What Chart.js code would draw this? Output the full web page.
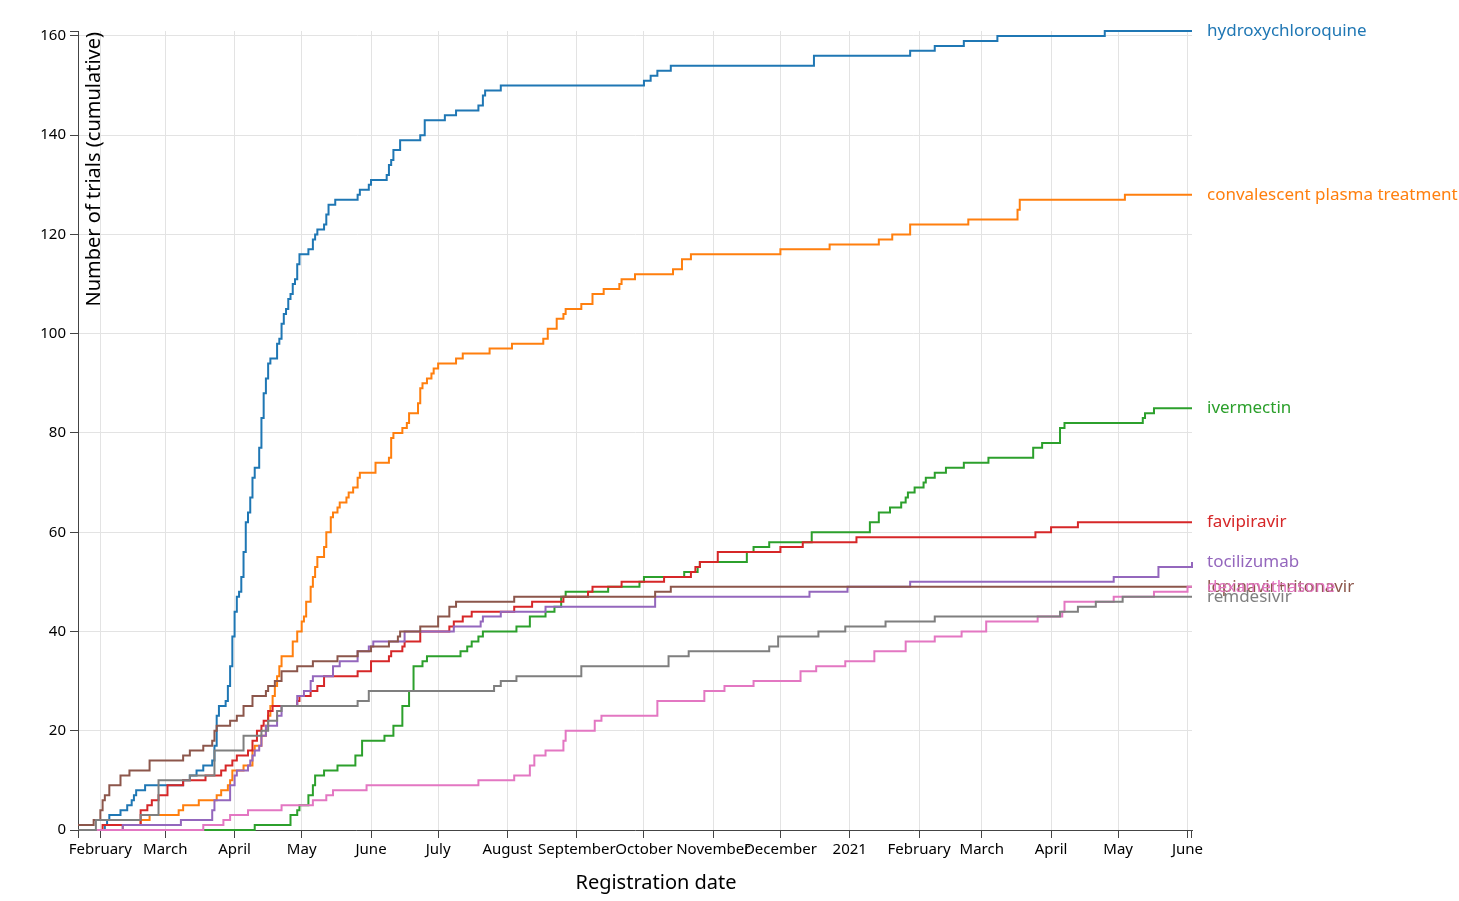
<!DOCTYPE html>
<html>
<head>
<meta charset="utf-8">
<script src="https://cdn.jsdelivr.net/npm/chart.js@4.4.1/dist/chart.umd.min.js"></script>
<style>
  html, body { margin: 0; padding: 0; background: #fff; }
  #wrap { width: 1459px; height: 901px; }
</style>
</head>
<body>
<div id="wrap"><canvas id="chart" width="1459" height="901"></canvas></div>
<script>
// axis range and tick labels
var firstDay = "2020-01-22";
var lastDay = "2021-06-03";
var tickDates = ["2020-02-01","2020-03-01","2020-04-01","2020-05-01","2020-06-01","2020-07-01","2020-08-01","2020-09-01",
  "2020-10-01","2020-11-01","2020-12-01","2021-01-01","2021-02-01","2021-03-01","2021-04-01","2021-05-01","2021-06-01"];
var tickLabels = ["February","March","April","May","June","July","August","September","October","November","December",
  "2021","February","March","April","May","June"];
var yTicks = [0, 20, 40, 60, 80, 100, 120, 140, 160];

var drugNames = ["hydroxychloroquine", "convalescent plasma treatment", "ivermectin", "favipiravir",
  "tocilizumab", "lopinavir+ritonavir", "dexamethasone", "remdesivir"];
var drugColors = ["#1f77b4", "#ff7f0e", "#2ca02c", "#d62728", "#9467bd", "#8c564b", "#e377c2", "#7f7f7f"];

// cumulative number of registered trials: date where the count changes, and new count
var hcqDates = ["2020-01-22","2020-02-03","2020-02-04","2020-02-05","2020-02-10","2020-02-13","2020-02-15","2020-02-16","2020-02-17","2020-02-21",
  "2020-03-09","2020-03-12","2020-03-15","2020-03-18","2020-03-22","2020-03-23","2020-03-24","2020-03-25","2020-03-28","2020-03-29",
  "2020-03-30","2020-03-31","2020-04-01","2020-04-02","2020-04-03","2020-04-04","2020-04-05","2020-04-06","2020-04-07","2020-04-08",
  "2020-04-09","2020-04-10","2020-04-12","2020-04-13","2020-04-14","2020-04-15","2020-04-16","2020-04-17","2020-04-20","2020-04-21",
  "2020-04-22","2020-04-23","2020-04-24","2020-04-25","2020-04-26","2020-04-27","2020-04-28","2020-04-29","2020-04-30","2020-05-04",
  "2020-05-06","2020-05-07","2020-05-08","2020-05-11","2020-05-12","2020-05-13","2020-05-16","2020-05-26","2020-05-27","2020-05-31",
  "2020-06-01","2020-06-08","2020-06-09","2020-06-10","2020-06-11","2020-06-14","2020-06-23","2020-06-25","2020-07-04","2020-07-09",
  "2020-07-19","2020-07-21","2020-07-22","2020-07-29","2020-10-01","2020-10-04","2020-10-07","2020-10-13","2020-12-16","2021-01-28",
  "2021-02-08","2021-02-21","2021-03-08","2021-04-25"];
var hcqCounts = [0,1,2,3,4,5,6,7,8,9, 10,11,12,13,14,17,23,25,26,29, 33,39,44,47,48,51,56,62,64,67,
  71,73,77,83,88,91,94,95,98,99, 102,104,105,107,108,110,111,114,116,117, 119,120,121,122,124,126,127,128,129,130,
  131,132,134,135,137,139,140,143,144,145, 146,148,149,150,151,152,153,154,156,157, 158,159,160,161];

var cptDates = ["2020-01-22","2020-02-11","2020-02-19","2020-02-23","2020-03-07","2020-03-09","2020-03-16","2020-03-24","2020-03-26","2020-03-29",
  "2020-03-30","2020-03-31","2020-04-05","2020-04-09","2020-04-10","2020-04-13","2020-04-15","2020-04-16","2020-04-17","2020-04-18",
  "2020-04-19","2020-04-20","2020-04-21","2020-04-22","2020-04-27","2020-04-29","2020-05-01","2020-05-02","2020-05-03","2020-05-05",
  "2020-05-06","2020-05-07","2020-05-08","2020-05-11","2020-05-12","2020-05-14","2020-05-15","2020-05-17","2020-05-18","2020-05-21",
  "2020-05-22","2020-05-24","2020-05-26","2020-05-27","2020-06-03","2020-06-09","2020-06-10","2020-06-11","2020-06-15","2020-06-17",
  "2020-06-18","2020-06-22","2020-06-23","2020-06-24","2020-06-26","2020-06-28","2020-06-29","2020-07-01","2020-07-09","2020-07-12",
  "2020-07-24","2020-08-03","2020-08-17","2020-08-19","2020-08-23","2020-08-26","2020-08-27","2020-09-03","2020-09-08","2020-09-13",
  "2020-09-20","2020-09-21","2020-09-27","2020-10-14","2020-10-18","2020-10-22","2020-12-01","2020-12-23","2021-01-14","2021-01-20",
  "2021-01-28","2021-02-23","2021-03-17","2021-03-18","2021-05-04"];
var cptCounts = [0,1,2,3,4,5,6,7,8,9, 10,12,13,16,17,19,21,23,25,27, 29,31,33,35,38,40,42,43,46,49,
  51,53,55,57,60,63,64,65,66,67, 68,69,71,72,74,75,79,80,81,82, 84,86,89,90,91,92,93,94,95,96,
  97,98,99,101,103,104,105,106,108,109, 110,111,112,113,115,116,117,118,119,120, 122,123,125,127,128];

var ivmDates = ["2020-01-22","2020-04-10","2020-04-26","2020-04-29","2020-04-30","2020-05-04","2020-05-06","2020-05-07","2020-05-11","2020-05-17",
  "2020-05-25","2020-05-28","2020-06-07","2020-06-11","2020-06-15","2020-06-18","2020-06-20","2020-06-24","2020-06-26","2020-07-11",
  "2020-07-14","2020-07-16","2020-07-19","2020-07-21","2020-08-05","2020-08-11","2020-08-18","2020-08-22","2020-08-25","2020-08-27",
  "2020-09-15","2020-09-29","2020-10-01","2020-10-19","2020-10-25","2020-10-26","2020-11-16","2020-11-19","2020-11-26","2020-12-15",
  "2021-01-10","2021-01-14","2021-01-19","2021-01-24","2021-01-26","2021-01-27","2021-01-30","2021-02-03","2021-02-04","2021-02-08",
  "2021-02-13","2021-02-21","2021-03-04","2021-03-24","2021-03-28","2021-04-05","2021-04-07","2021-05-12","2021-05-13","2021-05-17"];
var ivmCounts = [0,1,3,4,5,7,9,11,12,13, 15,18,19,21,25,28,33,34,35,36, 37,38,39,40,41,43,44,45,47,48,
  49,50,51,52,53,54,56,57,58,60, 62,64,65,66,67,68,69,70,71,72, 73,74,75,77,78,81,82,83,84,85];

var favDates = ["2020-01-22","2020-02-02","2020-02-19","2020-02-22","2020-02-24","2020-02-27","2020-03-02","2020-03-09","2020-03-19","2020-03-26",
  "2020-03-28","2020-03-31","2020-04-02","2020-04-07","2020-04-09","2020-04-11","2020-04-13","2020-04-14","2020-04-16","2020-04-18",
  "2020-04-29","2020-04-30","2020-05-05","2020-05-08","2020-05-11","2020-05-26","2020-06-01","2020-06-09","2020-06-10","2020-06-15",
  "2020-06-16","2020-06-23","2020-07-06","2020-07-08","2020-07-12","2020-07-16","2020-08-04","2020-08-12","2020-08-26","2020-09-06",
  "2020-09-08","2020-09-21","2020-10-10","2020-10-22","2020-10-24","2020-10-26","2020-11-03","2020-12-01","2020-12-11","2021-01-04",
  "2021-03-25","2021-04-01","2021-04-13"];
var favCounts = [0,1,4,5,6,7,9,10,11,12, 13,14,15,16,18,20,21,22,24,25, 26,27,28,29,31,32,34,35,36,37,
  38,40,41,42,43,44,45,46,47,48, 49,50,51,52,53,54,56,57,58,59, 60,61,62];

var tczDates = ["2020-01-22","2020-02-11","2020-03-08","2020-03-22","2020-03-23","2020-03-30","2020-04-01","2020-04-02","2020-04-07","2020-04-08",
  "2020-04-09","2020-04-10","2020-04-12","2020-04-13","2020-04-15","2020-04-20","2020-04-22","2020-04-29","2020-05-02","2020-05-05",
  "2020-05-06","2020-05-15","2020-05-18","2020-05-26","2020-05-31","2020-06-02","2020-06-16","2020-07-08","2020-07-20","2020-07-21",
  "2020-07-29","2020-08-18","2020-10-06","2020-12-14","2020-12-31","2021-01-28","2021-04-29","2021-05-19","2021-06-03"];
var tczCounts = [0,1,2,4,6,9,11,12,13,14, 15,16,17,19,21,23,25,27,28,30, 31,33,34,36,37,38,40,41,42,43,
  44,45,47,48,49,50,51,53,54];

var lprDates = ["2020-01-22","2020-01-29","2020-02-01","2020-02-02","2020-02-03","2020-02-05","2020-02-10","2020-02-14","2020-02-23","2020-03-09",
  "2020-03-12","2020-03-18","2020-03-22","2020-03-23","2020-03-24","2020-03-30","2020-04-02","2020-04-05","2020-04-09","2020-04-15",
  "2020-04-16","2020-04-19","2020-04-22","2020-04-29","2020-05-06","2020-05-17","2020-05-26","2020-06-01","2020-06-09","2020-06-13",
  "2020-06-14","2020-06-23","2020-07-01","2020-07-06","2020-07-09","2020-08-04","2020-10-06","2020-10-13"];
var lprCounts = [1,2,4,6,7,9,11,12,14,15, 16,17,18,20,21,22,23,25,27,28, 29,30,32,33,34,35,36,37,38,39,
  40,41,43,45,46,47,48,49];

var dexDates = ["2020-01-22","2020-03-18","2020-03-27","2020-03-30","2020-04-07","2020-04-22","2020-05-06","2020-05-12","2020-05-15","2020-05-30",
  "2020-07-19","2020-08-04","2020-08-11","2020-08-13","2020-08-18","2020-08-26","2020-08-27","2020-09-09","2020-09-12","2020-10-07",
  "2020-10-28","2020-11-06","2020-11-19","2020-12-10","2020-12-17","2020-12-30","2021-01-12","2021-01-26","2021-02-08","2021-02-20",
  "2021-03-03","2021-03-26","2021-04-06","2021-04-07","2021-04-29","2021-05-17","2021-06-01"];
var dexCounts = [0,1,2,3,4,5,6,7,8,9, 10,11,13,15,16,18,20,22,23,26, 28,29,30,32,33,34,36,38,39,40,
  42,43,44,46,47,48,49];

var remDates = ["2020-01-22","2020-01-30","2020-02-19","2020-02-27","2020-03-12","2020-03-23","2020-04-05","2020-04-13","2020-04-16","2020-04-20",
  "2020-04-22","2020-05-26","2020-05-31","2020-07-26","2020-07-29","2020-08-05","2020-09-03","2020-10-12","2020-10-21","2020-11-26",
  "2020-11-30","2020-12-18","2020-12-30","2021-01-17","2021-02-08","2021-04-05","2021-04-13","2021-04-21","2021-05-03"];
var remCounts = [0,2,3,10,11,16,19,20,22,24, 25,26,28,29,30,31,33,35,36,37, 39,40,41,42,43,44,45,46,47];

var seriesDates = [hcqDates, cptDates, ivmDates, favDates, tczDates, lprDates, dexDates, remDates];
var seriesCounts = [hcqCounts, cptCounts, ivmCounts, favCounts, tczCounts, lprCounts, dexCounts, remCounts];

function dayNum(s) { return Date.parse(s + "T00:00:00Z") / 86400000; }

var FONT = "'Noto Sans', sans-serif";
Chart.defaults.font.family = FONT;
Chart.defaults.color = "#000";

var datasets = drugNames.map(function (name, i) {
  var cs = seriesCounts[i];
  var pts = seriesDates[i].map(function (d, j) { return { x: dayNum(d), y: cs[j] }; });
  pts.push({ x: dayNum(lastDay), y: cs[cs.length - 1] });
  return {
    label: name,
    data: pts,
    borderColor: drugColors[i],
    backgroundColor: drugColors[i],
    borderWidth: 2,
    stepped: true,
    pointRadius: 0,
    fill: false,
    clip: 3,
    order: drugNames.length - i
  };
});

// end labels, axis titles, outer ticks of the axes
var extras = {
  id: "extras",
  afterDraw: function (chart) {
    var ctx = chart.ctx, a = chart.chartArea, ys = chart.scales.y;
    ctx.save();
    ctx.strokeStyle = "#444";
    ctx.lineWidth = 1;
    ctx.beginPath();
    ctx.moveTo(a.left - 8, Math.round(a.top) + 0.5); ctx.lineTo(a.left, Math.round(a.top) + 0.5);
    ctx.moveTo(Math.round(a.left) + 0.5, a.bottom); ctx.lineTo(Math.round(a.left) + 0.5, a.bottom + 8);
    ctx.moveTo(Math.round(a.right) - 0.5, a.bottom); ctx.lineTo(Math.round(a.right) - 0.5, a.bottom + 8);
    ctx.stroke();

    ctx.font = "17px " + FONT;
    ctx.textAlign = "left";
    ctx.textBaseline = "middle";
    drugNames.forEach(function (name, i) {
      var cs = seriesCounts[i];
      ctx.fillStyle = drugColors[i];
      ctx.fillText(name, a.right + 15, ys.getPixelForValue(cs[cs.length - 1]));
    });

    ctx.fillStyle = "#000";
    ctx.font = "20px " + FONT;
    ctx.textAlign = "center";
    ctx.fillText("Registration date", 656, 883);

    ctx.translate(94, a.top + 1);
    ctx.rotate(-Math.PI / 2);
    ctx.textAlign = "right";
    ctx.fillText("Number of trials (cumulative)", 0, 0);
    ctx.restore();
  }
};

new Chart(document.getElementById("chart"), {
  type: "line",
  data: { datasets: datasets },
  options: {
    responsive: false,
    animation: false,
    events: [],
    layout: { padding: { top: 31, right: 267, left: 0, bottom: 0 } },
    plugins: { legend: { display: false }, tooltip: { enabled: false } },
    scales: {
      x: {
        type: "linear",
        min: dayNum(firstDay),
        max: dayNum(lastDay),
        afterBuildTicks: function (scale) {
          scale.ticks = tickDates.map(function (d) { return { value: dayNum(d) }; });
        },
        afterFit: function (scale) { scale.height = 71; },
        grid: { color: "#e3e3e3", lineWidth: 1, tickLength: 8, tickColor: "#444", tickWidth: 1 },
        border: { display: true, color: "#444", width: 1 },
        ticks: {
          autoSkip: false, maxRotation: 0, minRotation: 0, padding: 3,
          font: { size: 15 },
          callback: function (value, index) { return tickLabels[index]; }
        }
      },
      y: {
        type: "linear",
        min: 0,
        max: 161,
        afterBuildTicks: function (scale) {
          scale.ticks = yTicks.map(function (v) { return { value: v }; });
        },
        afterFit: function (scale) { scale.width = 78; },
        grid: { color: "#e3e3e3", lineWidth: 1, tickLength: 8, tickColor: "#444", tickWidth: 1 },
        border: { display: true, color: "#444", width: 1 },
        ticks: { padding: 4, font: { size: 15 } }
      }
    }
  },
  plugins: [extras]
});
</script>
</body>
</html>
